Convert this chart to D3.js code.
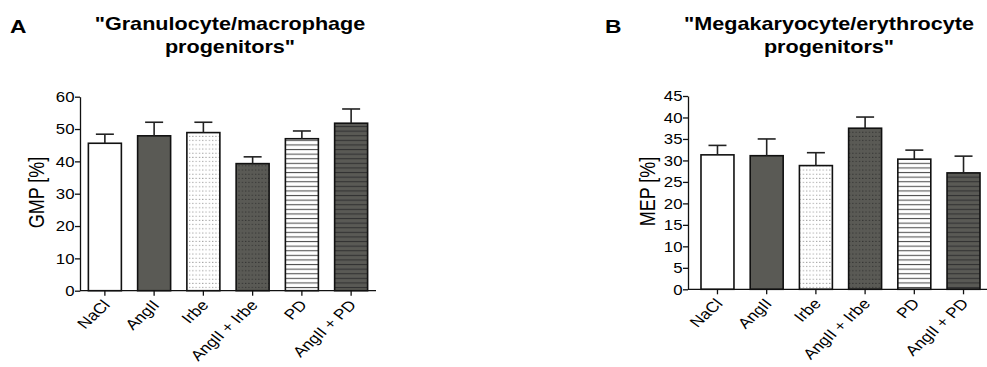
<!DOCTYPE html>
<html>
<head>
<meta charset="utf-8">
<script src="https://cdn.jsdelivr.net/npm/d3@7"></script>
<style>
  body { margin: 0; background: #fff; }
  svg { display: block; font-family: "Liberation Sans", Arial, sans-serif; }
</style>
</head>
<body>
<svg id="fig" width="987" height="367"></svg>
<script>
// groups (same for both panels)
const groups = ["NaCl", "AngII", "Irbe", "AngII + Irbe", "PD", "AngII + PD"];

// panel A: GMP [%]
const gmpMean = [45.6, 47.9, 48.9, 39.3, 47.0, 51.8];
const gmpErr = [2.8, 4.2, 3.2, 2.1, 2.4, 4.4];
const gmpTicks = [0, 10, 20, 30, 40, 50, 60];

// panel B: MEP [%]
const mepMean = [31.3, 31.1, 28.8, 37.5, 30.3, 27.1];
const mepErr = [2.2, 3.9, 3.0, 2.6, 2.1, 3.9];
const mepTicks = [0, 5, 10, 15, 20, 25, 30, 35, 40, 45];

const dark = "#5a5a55";
// the figure's text is drawn a bit wider than it is tall
const stretch = 1.2;
const svg = d3.select("#fig");

// fill patterns
const defs = svg.append("defs");

function dotPattern(id, bg, dot) {
    let p = defs.append("pattern").attr("id", id)
        .attr("patternUnits", "userSpaceOnUse")
        .attr("width", 3.3).attr("height", 4.2);
    p.append("rect").attr("width", 3.3).attr("height", 4.2).attr("fill", bg);
    p.append("rect").attr("x", 1).attr("y", 1.5).attr("width", 1).attr("height", 1).attr("fill", dot);
}

function linePattern(id, bg, line) {
    let p = defs.append("pattern").attr("id", id)
        .attr("patternUnits", "userSpaceOnUse")
        .attr("width", 8).attr("height", 4.6);
    p.append("rect").attr("width", 8).attr("height", 4.6).attr("fill", bg);
    p.append("rect").attr("y", 1.8).attr("width", 8).attr("height", 1.1).attr("fill", line);
}

dotPattern("dotsLight", "#ffffff", "#8a8a8a");
dotPattern("dotsDark", dark, "#2a2a2a");
linePattern("linesLight", "#ffffff", "#555555");
linePattern("linesDark", dark, "#333333");

const fills = ["#ffffff", dark, "url(#dotsLight)", "url(#dotsDark)", "url(#linesLight)", "url(#linesDark)"];

// puts a text at x,y, widened horizontally
function placeText(sel, x, y, extra) {
    sel.attr("x", 0).attr("y", 0)
        .attr("transform", `translate(${x},${y}) scale(${stretch},1)` + (extra || ""));
}

/**
 * Draws one bar panel with its axes, error bars and titles
 */
function drawPanel(opt) {
    let g = svg.append("g");

    let x = d3.scaleBand()
        .domain(groups)
        .range([opt.x0, opt.x1])
        .paddingInner(0.33)
        .paddingOuter(opt.padOuter);

    let y = d3.scaleLinear()
        .domain([0, d3.max(opt.ticks)])
        .range([opt.y0, opt.y1]);

    // bars
    g.selectAll(".bar").data(opt.mean).enter().append("rect")
        .attr("class", "bar")
        .attr("x", (d, i) => x(groups[i]))
        .attr("y", d => y(d))
        .attr("width", x.bandwidth())
        .attr("height", d => y(0) - y(d))
        .attr("fill", (d, i) => fills[i])
        .attr("stroke", "#111")
        .attr("stroke-width", 1.6);

    // upper error bars
    let err = g.selectAll(".err").data(opt.mean).enter().append("g").attr("class", "err")
        .attr("stroke", "#222").attr("stroke-width", 1.6).attr("fill", "none");
    err.append("line")
        .attr("x1", (d, i) => x(groups[i]) + x.bandwidth() / 2)
        .attr("x2", (d, i) => x(groups[i]) + x.bandwidth() / 2)
        .attr("y1", d => y(d))
        .attr("y2", (d, i) => y(d + opt.err[i]));
    err.append("line")
        .attr("x1", (d, i) => x(groups[i]) + x.bandwidth() / 2 - 9)
        .attr("x2", (d, i) => x(groups[i]) + x.bandwidth() / 2 + 9)
        .attr("y1", (d, i) => y(d + opt.err[i]))
        .attr("y2", (d, i) => y(d + opt.err[i]));

    // y axis
    let yAxis = g.append("g")
        .attr("transform", `translate(${opt.x0},0)`)
        .call(d3.axisLeft(y).tickValues(opt.ticks).tickSize(5).tickSizeOuter(0));
    yAxis.selectAll("text")
        .attr("font-size", 14).attr("fill", "#000").attr("font-family", null)
        .attr("dy", "0.35em")
        .each(function () { placeText(d3.select(this), -5.5, 0); });
    yAxis.selectAll("line, path").attr("stroke", "#111").attr("stroke-width", 1.3);

    // x axis
    let xAxis = g.append("g")
        .attr("transform", `translate(0,${opt.y0})`)
        .call(d3.axisBottom(x).tickSize(5).tickSizeOuter(0));
    xAxis.select(".domain").attr("d", `M${opt.x0},0H${opt.x1}`);
    xAxis.selectAll("line, path").attr("stroke", "#111").attr("stroke-width", 1.3);
    xAxis.selectAll("text")
        .attr("font-size", 14.5).attr("fill", "#000").attr("font-family", null)
        .attr("text-anchor", "end")
        .attr("dy", null)
        .each(function () { placeText(d3.select(this), 6, 15, " rotate(-48)"); });

    // y label
    g.append("text")
        .attr("text-anchor", "middle")
        .attr("font-size", 18)
        .attr("fill", "#000")
        .text(opt.yLabel)
        .call(placeText, opt.labelX, opt.labelY, " rotate(-90)");

    // titles
    let title = g.append("text")
        .attr("text-anchor", "middle")
        .attr("font-size", 18)
        .attr("font-weight", "bold")
        .attr("fill", "#000")
        .attr("transform", `translate(${opt.titleX},0) scale(${stretch},1)`);
    title.append("tspan").attr("x", 0).attr("y", 30).text(opt.title[0]);
    title.append("tspan").attr("x", 0).attr("y", 53).text(opt.title[1]);

    g.append("text")
        .attr("font-size", 19)
        .attr("font-weight", "bold")
        .attr("fill", "#000")
        .text(opt.letter)
        .call(placeText, opt.letterX, 33);
}

drawPanel({
    mean: gmpMean, err: gmpErr, ticks: gmpTicks,
    x0: 80, x1: 376, padOuter: 0.17,
    y0: 290.7, y1: 96.7,
    labelX: 44, labelY: 192.5, yLabel: "GMP [%]",
    title: ["\"Granulocyte/macrophage", "progenitors\""], titleX: 230,
    letter: "A", letterX: 10
});

drawPanel({
    mean: mepMean, err: mepErr, ticks: mepTicks,
    x0: 688, x1: 993, padOuter: 0.264,
    y0: 289.3, y1: 96,
    labelX: 655, labelY: 191.5, yLabel: "MEP [%]",
    title: ["\"Megakaryocyte/erythrocyte", "progenitors\""], titleX: 829,
    letter: "B", letterX: 605
});
</script>
</body>
</html>
